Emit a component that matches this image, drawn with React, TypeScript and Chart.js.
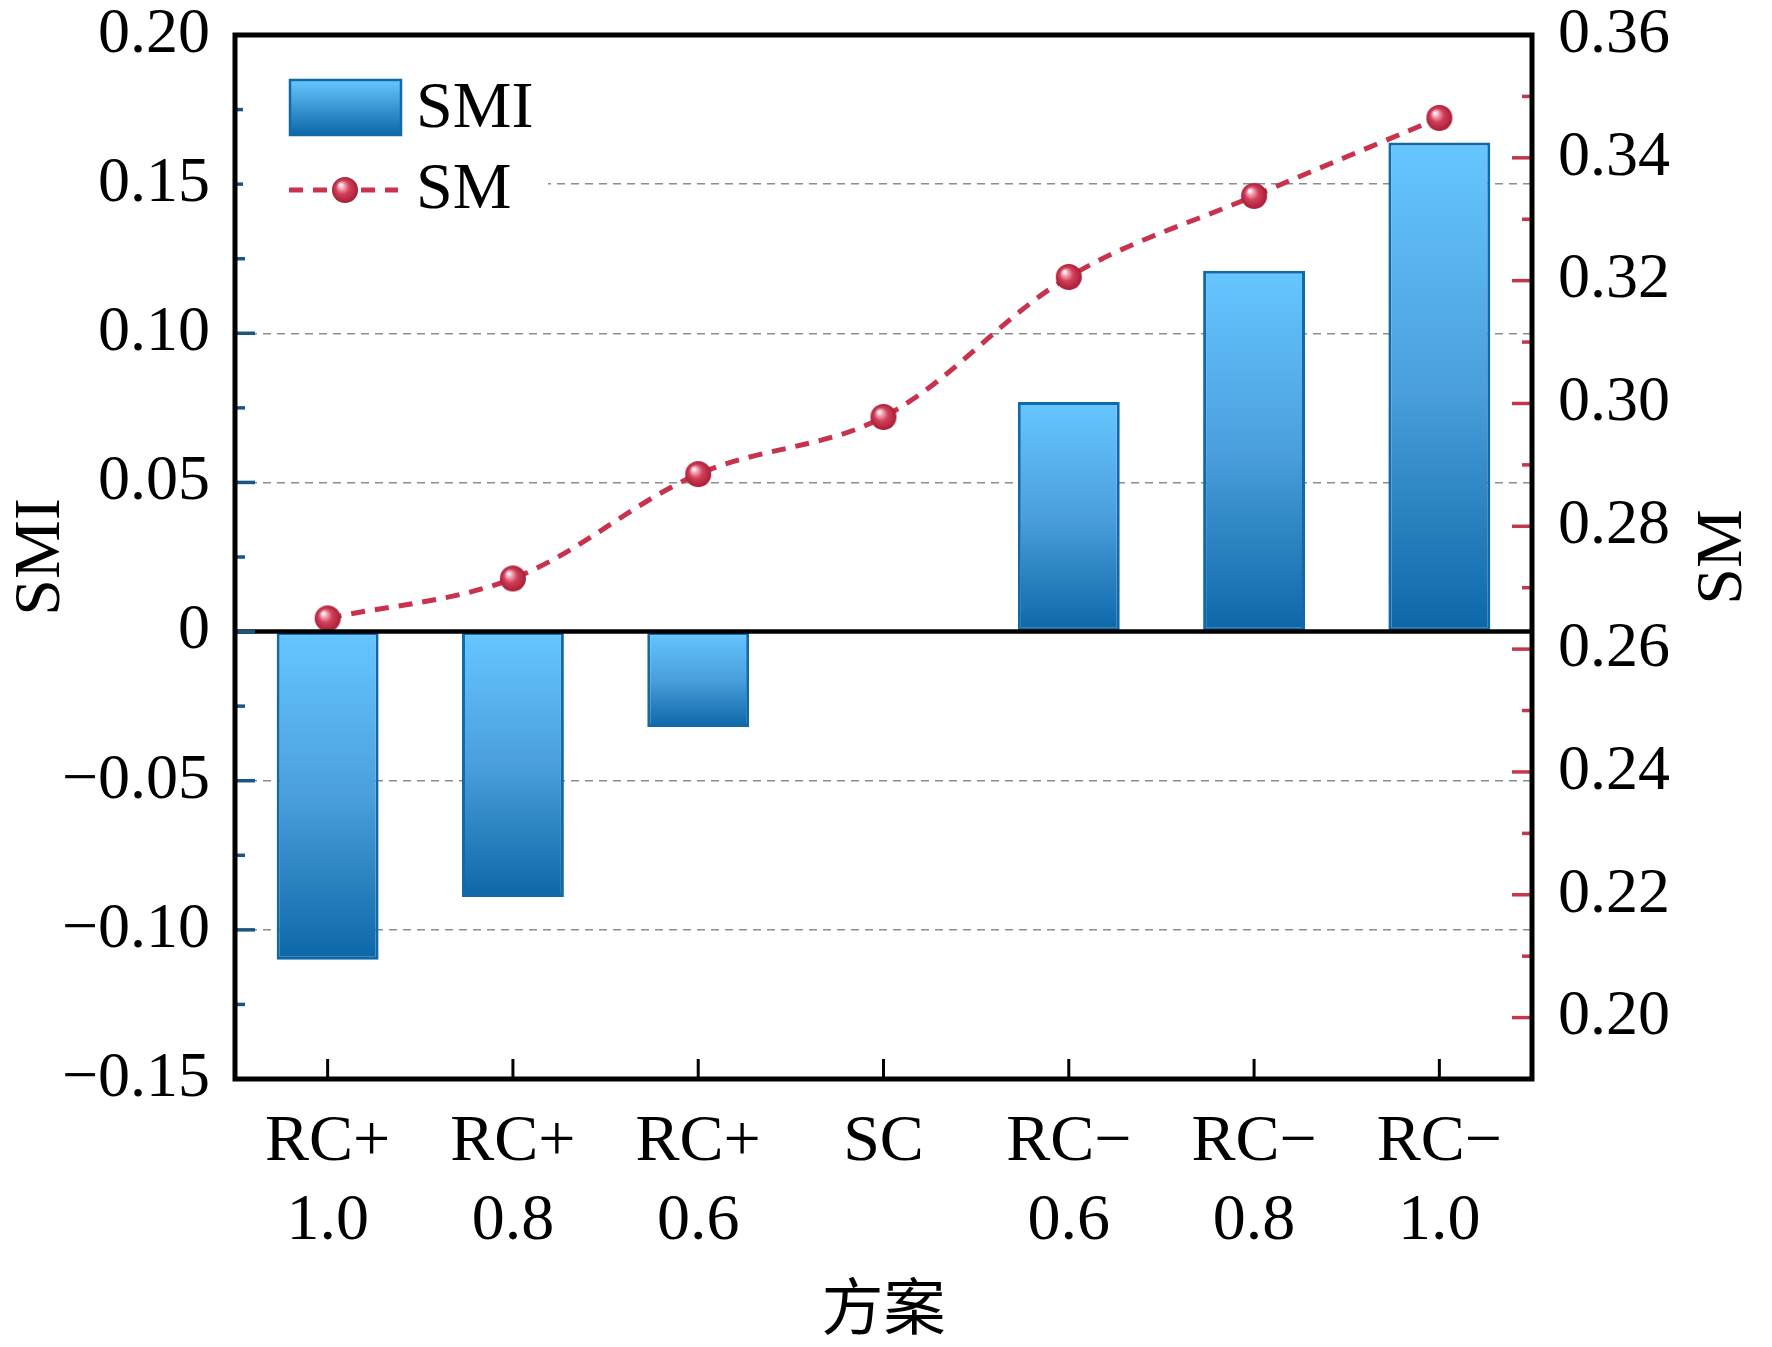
import React, { useEffect, useRef } from 'react';
import { Chart, registerables } from 'chart.js';

Chart.register(...registerables);

const categories: string[][] = [
    ['RC+', '1.0'],
    ['RC+', '0.8'],
    ['RC+', '0.6'],
    ['SC', ''],
    ['RC\u2212', '0.6'],
    ['RC\u2212', '0.8'],
    ['RC\u2212', '1.0'],
];
const smiValues: number[] = [-0.110, -0.089, -0.032, 0, 0.077, 0.121, 0.164];
const smValues: number[] = [0.265, 0.2715, 0.2885, 0.2978, 0.3206, 0.3338, 0.3465];

const FONT = '"Liberation Serif", "Times New Roman", serif';
const BAR_TOP = '#66c6ff';
const BAR_BOTTOM = '#0d67a7';
const BAR_EDGE = '#1269a8';
const LINE_RED = '#c8324c';
const LEFT_TICK = '#1b5682';
const RIGHT_TICK = '#c3364f';

// little shaded ball used as the SM marker
const makeBall = (r: number) => {
    const c = document.createElement('canvas');
    c.width = r * 2 + 2;
    c.height = r * 2 + 2;
    const g = c.getContext('2d')!;
    const cx = r + 1;
    const grad = g.createRadialGradient(cx - r * 0.35, cx - r * 0.4, r * 0.05, cx, cx, r);
    grad.addColorStop(0, '#ffffff');
    grad.addColorStop(0.2, '#f3a5b3');
    grad.addColorStop(0.5, '#d2405a');
    grad.addColorStop(1, '#a81d36');
    g.fillStyle = grad;
    g.beginPath();
    g.arc(cx, cx, r, 0, Math.PI * 2);
    g.fill();
    return c;
};

const barFill = (ctx: any) => {
    const chart = ctx.chart;
    const y = chart.scales?.y;
    const v = ctx.raw as number;
    if (!chart.chartArea || !y || typeof v !== 'number') return BAR_TOP;
    const top = y.getPixelForValue(Math.max(v, 0));
    const bot = y.getPixelForValue(Math.min(v, 0));
    if (Math.abs(bot - top) < 1) return BAR_TOP;
    const g = chart.ctx.createLinearGradient(0, top, 0, bot);
    g.addColorStop(0, BAR_TOP);
    g.addColorStop(0.5, '#4a9fdc');
    g.addColorStop(1, BAR_BOTTOM);
    return g;
};

const framePlugin = {
    id: 'frame',
    afterDatasetsDraw(chart: any) {
        const { ctx, chartArea: a, scales } = chart;
        const y = scales.y;
        const y1 = scales.y1;
        const x = scales.x;
        ctx.save();
        // zero line
        const z = y.getPixelForValue(0);
        ctx.strokeStyle = '#000';
        ctx.lineWidth = 4.5;
        ctx.beginPath();
        ctx.moveTo(a.left, z);
        ctx.lineTo(a.right, z);
        ctx.stroke();

        // inside ticks
        ctx.lineWidth = 3.5;
        ctx.strokeStyle = LEFT_TICK;
        y.ticks.forEach((t: any) => {
            const k = Math.round(t.value * 1000);
            if (k === 200 || k === -150) return;
            const py = y.getPixelForValue(t.value);
            const len = k % 50 === 0 ? 20 : 10;
            ctx.beginPath();
            ctx.moveTo(a.left, py);
            ctx.lineTo(a.left + len, py);
            ctx.stroke();
        });
        ctx.strokeStyle = RIGHT_TICK;
        y1.ticks.forEach((t: any) => {
            const k = Math.round(t.value * 100);
            if (k === 36 || k === 19) return;
            const py = y1.getPixelForValue(t.value);
            const len = k % 2 === 0 ? 20 : 10;
            ctx.beginPath();
            ctx.moveTo(a.right, py);
            ctx.lineTo(a.right - len, py);
            ctx.stroke();
        });
        ctx.strokeStyle = '#000';
        ctx.lineWidth = 3;
        x.ticks.forEach((_t: any, i: number) => {
            const px = x.getPixelForTick(i);
            ctx.beginPath();
            ctx.moveTo(px, a.bottom);
            ctx.lineTo(px, a.bottom - 20);
            ctx.stroke();
        });

        // frame
        ctx.lineWidth = 5;
        ctx.strokeStyle = '#000';
        ctx.strokeRect(a.left, a.top, a.right - a.left, a.bottom - a.top);

        // legend
        ctx.fillStyle = '#fff';
        ctx.fillRect(a.left + 8, a.top + 20, 305, 170);
        const lg = ctx.createLinearGradient(0, 80, 0, 135);
        lg.addColorStop(0, BAR_TOP);
        lg.addColorStop(1, BAR_BOTTOM);
        ctx.fillStyle = lg;
        ctx.fillRect(290, 80, 111, 55);
        ctx.lineWidth = 2.5;
        ctx.strokeStyle = BAR_EDGE;
        ctx.strokeRect(290, 80, 111, 55);
        ctx.setLineDash([14, 10]);
        ctx.lineWidth = 5;
        ctx.strokeStyle = LINE_RED;
        ctx.beginPath();
        ctx.moveTo(289, 190);
        ctx.lineTo(398, 190);
        ctx.stroke();
        ctx.setLineDash([]);
        ctx.fillStyle = '#fff';
        ctx.fillRect(330, 175, 30, 30);
        const ball = makeBall(13);
        ctx.drawImage(ball, 345 - ball.width / 2, 190 - ball.height / 2);
        ctx.fillStyle = '#000';
        ctx.font = `66px ${FONT}`;
        ctx.textBaseline = 'middle';
        ctx.textAlign = 'left';
        ctx.fillText('SMI', 416, 110);
        ctx.fillText('SM', 416, 191);

        // axis titles
        ctx.textAlign = 'center';
        ctx.save();
        ctx.translate(42, (a.top + a.bottom) / 2);
        ctx.rotate(-Math.PI / 2);
        ctx.fillText('SMI', 0, 0);
        ctx.restore();
        ctx.save();
        ctx.translate(1724, (a.top + a.bottom) / 2);
        ctx.rotate(-Math.PI / 2);
        ctx.fillText('SM', 0, 0);
        ctx.restore();
        ctx.font = '62px "Noto Sans CJK SC"';
        ctx.fillText('方案', (a.left + a.right) / 2, 1306);
        ctx.restore();
    },
};

const App: React.FC = () => {
    const canvasRef = useRef<HTMLCanvasElement | null>(null);

    useEffect(() => {
        document.body.style.margin = '0';
        if (!canvasRef.current) return;
        const ball = makeBall(13);
        const chart = new Chart(canvasRef.current, {
            type: 'bar',
            data: {
                labels: categories,
                datasets: [
                    {
                        type: 'bar',
                        label: 'SMI',
                        data: smiValues,
                        yAxisID: 'y',
                        backgroundColor: barFill,
                        borderColor: BAR_EDGE,
                        borderWidth: 3,
                        borderSkipped: false,
                        barPercentage: 0.55,
                        categoryPercentage: 1,
                        order: 1,
                    },
                    {
                        type: 'line',
                        label: 'SM',
                        data: smValues,
                        yAxisID: 'y1',
                        borderColor: LINE_RED,
                        borderWidth: 5,
                        borderDash: [14, 10],
                        tension: 0.35,
                        pointStyle: ball,
                        pointRadius: 13,
                        order: 0,
                    },
                ],
            },
            options: {
                responsive: false,
                devicePixelRatio: 1,
                animation: false,
                layout: { padding: { top: 35 } },
                plugins: {
                    legend: { display: false },
                    tooltip: { enabled: false },
                },
                scales: {
                    x: {
                        grid: { display: false, drawTicks: false },
                        border: { display: false },
                        ticks: {
                            color: '#000',
                            padding: 24,
                            maxRotation: 0,
                            font: { family: FONT, size: 66, lineHeight: 1.2 },
                        },
                        afterFit: (s: any) => {
                            s.height = 268;
                            s.paddingLeft = 0;
                            s.paddingRight = 0;
                        },
                    },
                    y: {
                        position: 'left',
                        min: -0.15,
                        max: 0.2,
                        grid: {
                            drawTicks: false,
                            lineWidth: 1.5,
                            color: (c: any) => {
                                const k = Math.round((c.tick?.value ?? 0) * 1000);
                                if (k % 50 !== 0 || k === 0 || k === 200 || k === -150) return 'rgba(0,0,0,0)';
                                return '#8c8c8c';
                            },
                        },
                        border: { display: false, dash: [8, 6] },
                        ticks: {
                            stepSize: 0.025,
                            autoSkip: false,
                            padding: 25,
                            color: '#000',
                            font: { family: FONT, size: 64, lineHeight: 1 },
                            callback: (v: any) => {
                                const k = Math.round(Number(v) * 1000);
                                if (k % 50 !== 0) return '';
                                if (k === 0) return '0';
                                return (k < 0 ? '\u2212' : '') + Math.abs(k / 1000).toFixed(2);
                            },
                        },
                        afterFit: (s: any) => {
                            s.width = 235;
                            s.paddingTop = 0;
                            s.paddingBottom = 0;
                        },
                    },
                    y1: {
                        position: 'right',
                        min: 0.19,
                        max: 0.36,
                        grid: { display: false, drawTicks: false },
                        border: { display: false },
                        ticks: {
                            stepSize: 0.01,
                            autoSkip: false,
                            padding: 26,
                            color: '#000',
                            font: { family: FONT, size: 64, lineHeight: 1 },
                            callback: (v: any) => {
                                const k = Math.round(Number(v) * 100);
                                return k % 2 === 0 ? (k / 100).toFixed(2) : '';
                            },
                        },
                        afterFit: (s: any) => {
                            s.width = 240;
                            s.paddingTop = 0;
                            s.paddingBottom = 0;
                        },
                    },
                },
            },
            plugins: [framePlugin],
        });
        return () => {
            chart.destroy();
        };
    }, []);

    return (
        <div style={{ width: 1772, height: 1347, background: '#fff', overflow: 'hidden' }}>
            <canvas ref={canvasRef} width={1772} height={1347} style={{ display: 'block' }} />
        </div>
    );
};

export default App;
